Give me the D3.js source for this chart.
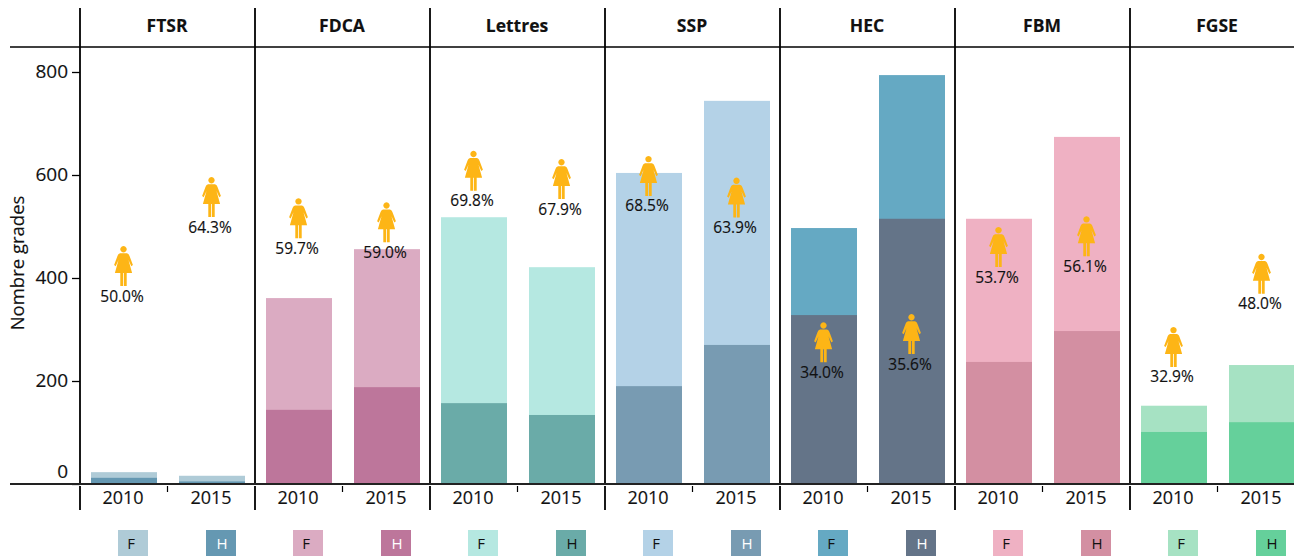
<!DOCTYPE html>
<html><head><meta charset="utf-8">
<script src="https://cdn.jsdelivr.net/npm/d3@7"></script>
<style>
html,body{margin:0;padding:0;background:#fff;overflow:hidden}
svg{display:block;font-family:"Open Sans",sans-serif;color:#111}
text{fill:#111;stroke:currentColor;stroke-width:.15px}
</style></head><body>
<svg id="c" width="1294" height="556"></svg>
<script>
const faculties = ["FTSR","FDCA","Lettres","SSP","HEC","FBM","FGSE"];
const years = ["2010","2015"];
const yTicks = [0,200,400,600,800];
const totals2010 = [23,361,518,604,497,515,152];
const totals2015 = [16,456,421,744,794,674,231];
const men2010 = [12,144,157,190,328,237,101];
const men2015 = [5,188,134,270,515,297,120];
const pct2010 = ["50.0%","59.7%","69.8%","68.5%","34.0%","53.7%","32.9%"];
const pct2015 = ["64.3%","59.0%","67.9%","63.9%","35.6%","56.1%","48.0%"];
const iconAt2010 = [462,555,647,637,314,499,305];
const iconAt2015 = [596,547,631,595,330,520,447];
const colorsF = ["#afcbd7","#dbabc2","#b5e8e1","#b4d2e7","#65a9c3","#efb1c3","#a6e2c3"];
const colorsH = ["#6598b2","#bd769b","#6aaba8","#789bb2","#647488","#d38fa2","#65d09b"];
const textH = ["#fff","#fff","#111","#fff","#fff","#111","#111"];

const svg = d3.select("#c");
const defs = svg.append("defs");
defs.append("filter").attr("id","soft").append("feGaussianBlur").attr("stdDeviation",0.45);
const y = d3.scaleLinear().domain([0,800]).range([484,72]);
const px = d3.scaleBand().domain(faculties).range([80,80+175*7]);
const bx = d3.scaleBand().domain(years).range([0,176]).paddingInner(.25).paddingOuter(.125);
const rows = faculties.flatMap((f,i)=>[
  {f,i,yr:"2010",total:totals2010[i],men:men2010[i],pct:pct2010[i],at:iconAt2010[i]},
  {f,i,yr:"2015",total:totals2015[i],men:men2015[i],pct:pct2015[i],at:iconAt2015[i]}
]);
const X = d=>px(d.f)+bx(d.yr);

// bars
svg.append("g").selectAll("rect").data(rows).join("rect")
  .attr("x",X).attr("width",bx.bandwidth()).attr("y",d=>y(d.total))
  .attr("height",d=>y(0)-y(d.total)).attr("fill",d=>colorsF[d.i]);
svg.append("g").selectAll("rect").data(rows).join("rect")
  .attr("x",X).attr("width",bx.bandwidth()).attr("y",d=>y(d.men))
  .attr("height",d=>y(0)-y(d.men)).attr("fill",d=>colorsH[d.i]);

// frame lines
const lines = svg.append("g").attr("stroke","#000");
lines.selectAll("line.v").data(faculties).join("line").attr("class","v")
  .attr("x1",d=>px(d)).attr("x2",d=>px(d)).attr("y1",8).attr("y2",484).attr("stroke-width",1.8);
lines.selectAll("line.w").data(faculties).join("line").attr("class","w")
  .attr("x1",d=>px(d)).attr("x2",d=>px(d)).attr("y1",486).attr("y2",510).attr("stroke-width",1.8);
lines.append("line").attr("x1",10).attr("x2",1294).attr("y1",47).attr("y2",47).attr("stroke-width",1.6);
lines.append("line").attr("x1",10).attr("x2",1294).attr("y1",y(0)).attr("y2",y(0)).attr("stroke-width",2).attr("stroke","#222");
lines.selectAll("line.m").data(faculties).join("line").attr("class","m")
  .attr("x1",d=>px(d)+87.5).attr("x2",d=>px(d)+87.5).attr("y1",486).attr("y2",492).attr("stroke-width",1.2);

// y axis
const axis = svg.append("g").attr("transform","translate(80,0)")
  .call(d3.axisLeft(y).tickValues(yTicks).tickSize(8).tickPadding(4).tickFormat(d3.format("d")));
axis.select(".domain").remove();
axis.selectAll("line").attr("stroke","#000").attr("stroke-width",1.3);
axis.selectAll("text").attr("font-size",19).attr("font-family",'"Open Sans",sans-serif')
  .attr("fill","#111").attr("dy",d=>d===0?"-0.35em":"0.3em").attr("x",-12);
axis.selectAll(".tick").filter(d=>d===0).select("line").attr("stroke","#222");

svg.append("text").attr("transform","translate(24,263) rotate(-90)")
  .attr("text-anchor","middle").attr("font-size",18.5).text("Nombre grades");

// panel titles
svg.append("g").selectAll("text").data(faculties).join("text")
  .attr("x",d=>px(d)+87).attr("y",32).attr("text-anchor","middle")
  .attr("font-size",17.5).attr("font-weight",700).text(d=>d);

// year labels
svg.append("g").selectAll("text").data(rows).join("text")
  .attr("x",d=>X(d)+bx.bandwidth()/2-1).attr("y",504).attr("text-anchor","middle")
  .attr("font-size",18).text(d=>d.yr);

// legend
const leg = svg.append("g").selectAll("g").data(rows).join("g")
  .attr("transform",d=>`translate(${X(d)+bx.bandwidth()/2+9-15},530)`);
leg.append("rect").attr("width",30).attr("height",26)
  .attr("fill",d=>d.yr==="2010"?colorsF[d.i]:colorsH[d.i]);
leg.append("text").attr("x",d=>d.yr==="2010"?13:16).attr("y",18.5).attr("text-anchor","middle")
  .attr("font-size",15)
  .style("fill",d=>d.yr==="2010"?"#111":textH[d.i])
  .style("stroke","none")
  .text(d=>d.yr==="2010"?"F":"H");

// woman icons and percentages
const woman = "M0,0a3.2,3.2 0 1,1 -0.01,0Z M-3.4,7.2H3.4C5,7.6 5.8,9 6.4,11L9.4,19 7.8,20.2 5,14 8.6,27H3.2V40H0.4V27H-0.4V40H-3.2V27H-8.6L-5,14 -7.8,20.2 -9.4,19 -6.4,11C-5.8,9 -5,7.6 -3.4,7.2Z";
const marks = svg.append("g").selectAll("g").data(rows).join("g")
  .attr("transform",d=>`translate(${X(d)+bx.bandwidth()/2-0.5},${y(d.at)})`);
marks.append("path").attr("d",woman).attr("fill","#fdb515").attr("filter","url(#soft)");
marks.append("text").attr("x",-1.5).attr("y",55.5).attr("text-anchor","middle").attr("font-size",15.5).text(d=>d.pct);
</script>
</body></html>
